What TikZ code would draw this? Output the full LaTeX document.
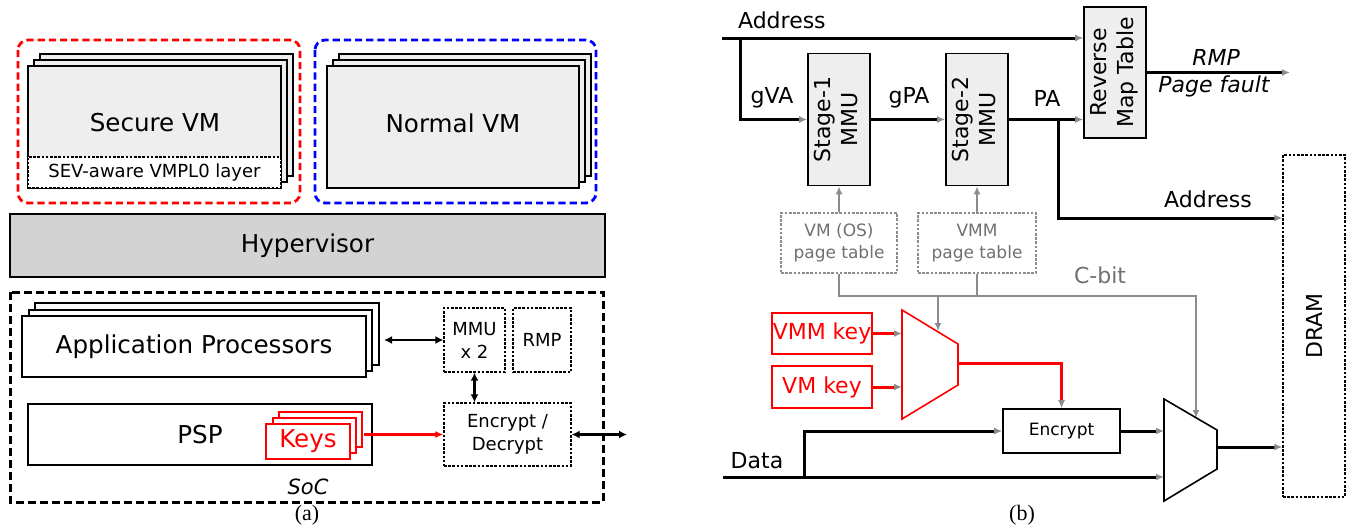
\documentclass[tikz,border=0pt]{standalone}
\usepackage{fontspec}
\setmainfont{DejaVu Sans}
\newfontfamily\capfont{Liberation Serif}
\usetikzlibrary{arrows.meta}

\definecolor{boxgray}{HTML}{EEEEEE}
\definecolor{hypgray}{HTML}{D3D3D3}
\definecolor{linegray}{HTML}{8C8C8C}
\definecolor{textgray}{HTML}{707070}

\tikzset{
  big/.style={font=\fontsize{12.3}{15}\selectfont},
  mid/.style={font=\fontsize{11}{13.5}\selectfont},
  small/.style={font=\fontsize{9}{11.5}\selectfont},
  vmframe/.style={line width=1.4pt, rounded corners=5pt, dash pattern=on 3.6pt off 2pt},
  socframe/.style={line width=1.5pt, dash pattern=on 4pt off 2pt},
  layer/.style={draw, line width=0.8pt, fill=boxgray},
  chip/.style={draw, line width=1pt, fill=white, inner sep=0pt},
  hw/.style={draw, line width=0.6pt, dash pattern=on 1.3pt off 0.8pt, inner sep=0pt, align=center, small},
  keybox/.style={draw=red, line width=0.6pt, fill=white, text=red, inner sep=0pt},
  link/.style={line width=1.1pt, {Latex[length=4pt,width=4pt]}-{Latex[length=4pt,width=4pt]}},
  unit/.style={draw, line width=0.8pt, fill=boxgray, inner sep=0pt, mid},
  ptable/.style={draw=linegray, line width=0.6pt, dash pattern=on 1.3pt off 0.8pt, text=textgray, inner sep=0pt, align=center, font=\fontsize{8.5}{11}\selectfont},
  bus/.style={line width=1.5pt, -{Latex[length=4pt,width=3.5pt,color=linegray]}},
  keyline/.style={line width=1.5pt, red, -{Latex[length=4pt,width=3.5pt,color=linegray]}},
  ctl/.style={line width=1.1pt, linegray, -{Latex[length=4pt,width=3.5pt]}},
  mux/.style={line width=0.8pt},
}

\begin{document}
\begin{tikzpicture}[x=0.5pt, y=-0.5pt]
  \useasboundingbox (0,0) rectangle (1347,525);

  % (a) 虚拟机
  \draw[vmframe, red] (18,40) rectangle (300,203);
  \draw[vmframe, blue] (315,40) rectangle (596,203);
  \draw[layer] (40,54) rectangle (293,176);
  \draw[layer] (34,60) rectangle (287,182);
  \draw[layer] (28,66) rectangle (281,188);
  \node[big] (svm) at (155,123) {Secure VM};
  \node[hw, fill=white, minimum width=126.5pt, minimum height=15.5pt] (sev) at (154.5,172.5) {SEV-aware VMPL0 layer};
  \draw[layer] (339,54) rectangle (591,176);
  \draw[layer] (333,60) rectangle (585,182);
  \draw[layer] (327,66) rectangle (579,188);
  \node[big] (nvm) at (453,123) {Normal VM};

  % Hypervisor
  \node[draw, line width=1.25pt, fill=hypgray, minimum width=297.5pt, minimum height=31.5pt, big] (hyp) at (307.5,245.5) {Hypervisor};

  % SoC
  \draw[socframe] (10,292) rectangle (603,502);
  \node[font=\fontsize{10.5}{12}\selectfont\itshape] (soc) at (308,487) {SoC};
  \draw[chip] (35,303) rectangle (379,365);
  \draw[chip] (29,310) rectangle (372,371);
  \node[chip, minimum width=172pt, minimum height=30.5pt, big] (ap) at (194,346.5) {Application Processors};
  \node[chip, minimum width=172pt, minimum height=30.5pt, big] (psp) at (200,434.5) {PSP};
  \draw[keybox] (279,412) rectangle (362,447);
  \draw[keybox] (273,418) rectangle (356,453);
  \node[keybox, minimum width=42pt, minimum height=17.5pt, big] (keys) at (308,441.5) {Keys};
  \node[hw, minimum width=30.5pt, minimum height=32pt] (mmu) at (474.5,340) {MMU\\x 2};
  \node[hw, minimum width=29pt, minimum height=32pt] (rmp) at (542,340) {RMP};
  \node[hw, minimum width=63.5pt, minimum height=31.5pt] (encdec) at (507.5,434.5) {Encrypt /\\Decrypt};
  \coordinate (apport) at (384,340);
  \coordinate (keyport) at (364,434.5);
  \coordinate (memio) at (627,434.5);
  \draw[link] (apport) -- (mmu.west);
  \draw[link] (mmu.south) -- (mmu.south |- encdec.north);
  \draw[red, line width=1.2pt, -{Latex[length=4pt,width=3.5pt]}] (keyport) -- (encdec.west);
  \draw[link] (encdec.east) -- (memio);
  \node[font=\capfont\fontsize{11}{13}\selectfont] (capa) at (307,515) {(a)};

  % (b) 地址翻译
  \node[mid, anchor=west] (addrlbl) at (731,20) {Address};
  \node[unit, minimum width=31pt, minimum height=65.5pt] (rmt) at (1115,72.5)
    {\rotatebox{90}{\begin{tabular}{@{}c@{}}Reverse\\Map Table\end{tabular}}};
  \node[unit, minimum width=31pt, minimum height=66pt] (stage1) at (839,119.5)
    {\rotatebox{90}{\begin{tabular}{@{}c@{}}Stage-1\\MMU\end{tabular}}};
  \node[unit, minimum width=31pt, minimum height=66pt] (stage2) at (977,119.5)
    {\rotatebox{90}{\begin{tabular}{@{}c@{}}Stage-2\\MMU\end{tabular}}};
  \node[hw, mid, minimum width=31pt, minimum height=171pt] (dram) at (1314,326)
    {\rotatebox{90}{DRAM}};
  \coordinate (addrin) at (722,38);
  \coordinate (gvasplit) at (740,38);
  \coordinate (pasplit) at (1058,119.5);
  \coordinate (addrout) at (1058,218);
  \coordinate (fault) at (1290,72.5);
  \draw[bus] (addrin) -- (addrin -| rmt.west);
  \draw[bus] (gvasplit) |- (stage1.west);
  \draw[bus] (stage1.east) -- (stage2.west);
  \draw[bus] (stage2.east) -- (stage2.east -| rmt.west);
  \draw[bus] (pasplit) -- (addrout) -- (addrout -| dram.west);
  \draw[bus] (rmt.east) -- (fault);
  \node[mid] (gva) at (772,98) {gVA};
  \node[mid] (gpa) at (909,98) {gPA};
  \node[mid] (pa) at (1047,98) {PA};
  \node[mid] (addrlbl2) at (1208,199) {Address};
  \node[mid, font=\fontsize{11}{13.5}\selectfont\itshape] (rmplbl) at (1216,57) {RMP};
  \node[mid, font=\fontsize{11}{13.5}\selectfont\itshape] (faultlbl) at (1214,86) {Page fault};

  % 页表与 C-bit
  \node[ptable, minimum width=58pt, minimum height=30pt] (vmos) at (839,243) {VM (OS)\\page table};
  \node[ptable, minimum width=59pt, minimum height=30pt] (vmmpt) at (977,243) {VMM\\page table};
  \draw[ctl] (vmos.north) -- (stage1.south);
  \draw[ctl] (vmmpt.north) -- (stage2.south);
  \coordinate (cbit) at (1196,296);
  \coordinate (m1sel) at (938,331);
  \coordinate (m2sel) at (1196,418);
  \draw[ctl] (vmos.south) |- (cbit) -- (m2sel);
  \draw[ctl, -] (vmmpt.south) -- (vmmpt.south |- cbit);
  \draw[ctl] (m1sel |- cbit) -- (m1sel);
  \node[mid, text=textgray] (cbitlbl) at (1100,275) {C-bit};

  % 密钥选择
  \node[keybox, mid, minimum width=50pt, minimum height=20.5pt] (vmmkey) at (822,333.5) {VMM key};
  \node[keybox, mid, minimum width=50pt, minimum height=21pt] (vmkey) at (822,387) {VM key};
  \draw[mux, red] (902,310) coordinate (m1in) -- (958,344) -- (958,385) -- (902,419) -- cycle;
  \coordinate (m1out) at (958,363);
  \draw[keyline] (vmmkey.east) -- (vmmkey.east -| m1in);
  \draw[keyline] (vmkey.east) -- (vmkey.east -| m1in);
  \node[chip, line width=0.8pt, minimum width=58.5pt, minimum height=22pt, font=\fontsize{8.5}{10}\selectfont] (enc) at (1061.5,431) {Encrypt};
  \draw[keyline] (m1out) -| (enc.north);

  % 数据通路
  \node[mid] (datalbl) at (757,461) {Data};
  \coordinate (datain) at (723,477);
  \coordinate (datasplit) at (804,477);
  \draw[mux] (1164,399) coordinate (m2in) -- (1217,430) -- (1217,469) -- (1164,501) -- cycle;
  \coordinate (m2out) at (1217,447);
  \draw[bus] (datain) -- (datain -| m2in);
  \draw[bus] (datasplit) |- (enc.west);
  \draw[bus] (enc.east) -- (enc.east -| m2in);
  \draw[bus] (m2out) -- (m2out -| dram.west);
  \node[font=\capfont\fontsize{11}{13}\selectfont] (capb) at (1022,515) {(b)};
\end{tikzpicture}
\end{document}
